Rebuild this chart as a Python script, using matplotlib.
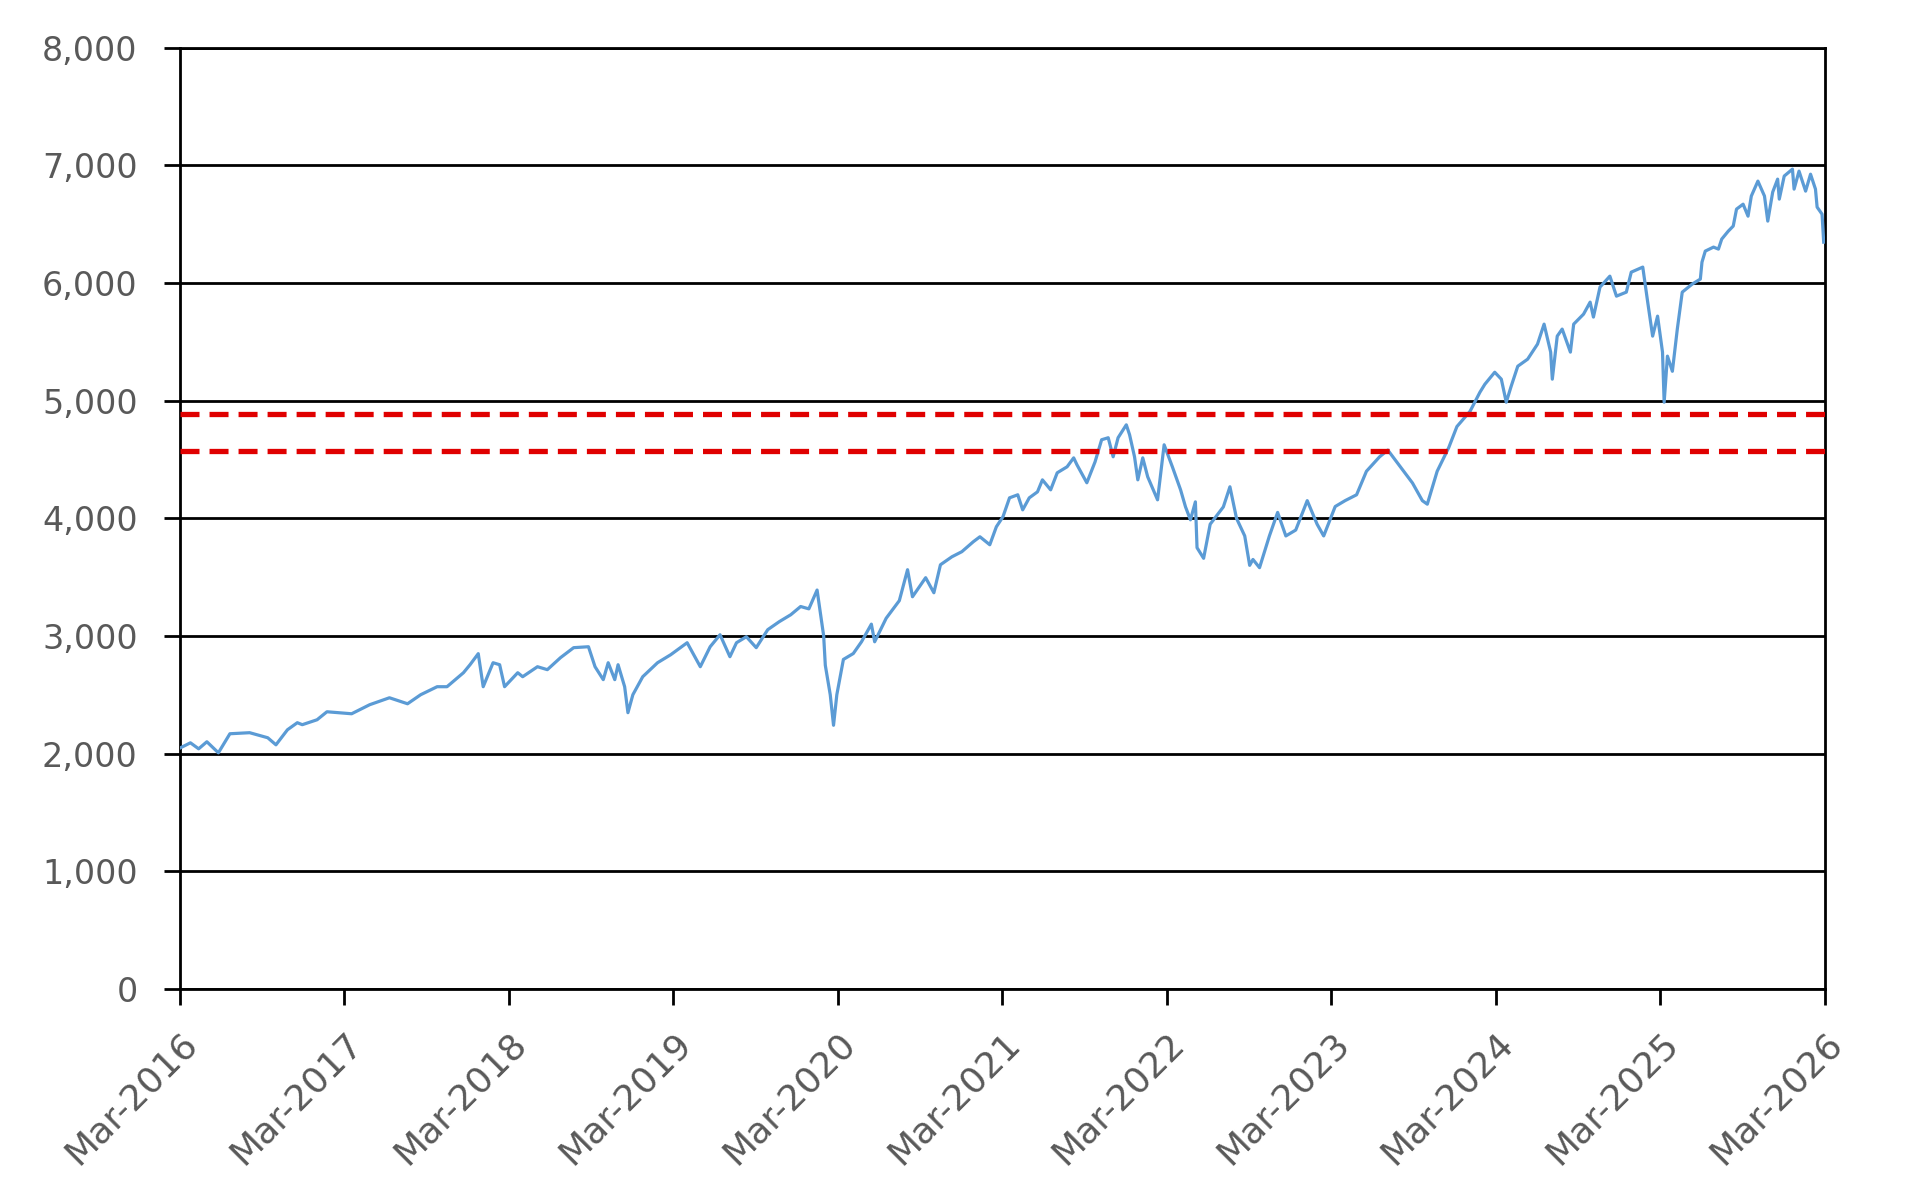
import numpy as np
import matplotlib
matplotlib.use("Agg")
from matplotlib import pyplot as plt

# index level (decimal year, value)
t = [2016.17, 2016.23, 2016.28, 2016.33, 2016.40, 2016.47, 2016.59, 2016.70, 2016.75, 2016.82,
     2016.88, 2016.91, 2017.00, 2017.06, 2017.21, 2017.32, 2017.44, 2017.55, 2017.63, 2017.73,
     2017.79, 2017.89, 2017.93, 2017.98, 2018.01, 2018.07, 2018.11, 2018.14, 2018.22, 2018.25,
     2018.34, 2018.40, 2018.48, 2018.56, 2018.65, 2018.69, 2018.74, 2018.77, 2018.81, 2018.83,
     2018.87, 2018.89, 2018.92, 2018.98, 2019.07, 2019.15, 2019.25, 2019.33, 2019.39, 2019.45,
     2019.51, 2019.55, 2019.61, 2019.67, 2019.74, 2019.81, 2019.88, 2019.94, 2019.99, 2020.04,
     2020.08, 2020.09, 2020.12, 2020.14, 2020.16, 2020.20, 2020.26, 2020.31, 2020.37, 2020.39,
     2020.46, 2020.54, 2020.59, 2020.62, 2020.70, 2020.75, 2020.79, 2020.86, 2020.92, 2020.99,
     2021.03, 2021.09, 2021.13, 2021.17, 2021.21, 2021.26, 2021.29, 2021.33, 2021.38, 2021.41,
     2021.46, 2021.50, 2021.56, 2021.60, 2021.62, 2021.68, 2021.73, 2021.77, 2021.81, 2021.84,
     2021.87, 2021.92, 2021.94, 2021.97, 2021.99, 2022.02, 2022.05, 2022.11, 2022.15, 2022.20,
     2022.25, 2022.28, 2022.31, 2022.34, 2022.35, 2022.39, 2022.43, 2022.51, 2022.55, 2022.59,
     2022.64, 2022.67, 2022.69, 2022.73, 2022.79, 2022.84, 2022.89, 2022.95, 2023.02, 2023.08,
     2023.12, 2023.19, 2023.25, 2023.32, 2023.38, 2023.46, 2023.51, 2023.58, 2023.66, 2023.72,
     2023.75, 2023.81, 2023.88, 2023.93, 2024.01, 2024.07, 2024.10, 2024.16, 2024.20, 2024.23,
     2024.26, 2024.30, 2024.36, 2024.42, 2024.46, 2024.50, 2024.51, 2024.54, 2024.57, 2024.62,
     2024.64, 2024.70, 2024.74, 2024.76, 2024.80, 2024.86, 2024.90, 2024.96, 2024.99, 2025.06,
     2025.09, 2025.12, 2025.15, 2025.18, 2025.19, 2025.21, 2025.24, 2025.27, 2025.30, 2025.36,
     2025.41, 2025.42, 2025.44, 2025.49, 2025.52, 2025.54, 2025.58, 2025.61, 2025.63, 2025.67,
     2025.70, 2025.72, 2025.76, 2025.80, 2025.82, 2025.85, 2025.88, 2025.89, 2025.92, 2025.97,
     2025.98, 2026.01, 2026.05, 2026.08, 2026.11, 2026.12, 2026.15, 2026.16]
niveau = [2049, 2091, 2040, 2100, 2006, 2168, 2177, 2134, 2074, 2202,
          2262, 2245, 2287, 2355, 2338, 2415, 2474, 2423, 2500, 2568,
          2568, 2687, 2755, 2849, 2568, 2772, 2755, 2568, 2687, 2653,
          2738, 2713, 2815, 2900, 2908, 2738, 2628, 2772, 2628, 2755,
          2568, 2347, 2500, 2653, 2772, 2840, 2942, 2738, 2908, 3010,
          2823, 2942, 2993, 2900, 3053, 3121, 3180, 3250, 3230, 3390,
          3000, 2750, 2500, 2240, 2500, 2800, 2850, 2950, 3100, 2950,
          3150, 3300, 3563, 3333, 3495, 3367, 3605, 3673, 3716, 3801,
          3843, 3775, 3928, 4013, 4174, 4200, 4072, 4174, 4225, 4327,
          4242, 4387, 4438, 4514, 4455, 4302, 4480, 4668, 4685, 4523,
          4685, 4795, 4710, 4523, 4327, 4514, 4353, 4157, 4625, 4438,
          4242, 4097, 3987, 4140, 3750, 3660, 3950, 4097, 4268, 4000,
          3850, 3600, 3650, 3580, 3850, 4050, 3850, 3900, 4150, 3950,
          3850, 4100, 4150, 4200, 4400, 4523, 4580, 4450, 4300, 4150,
          4120, 4400, 4600, 4780, 4910, 5072, 5140, 5242, 5183, 4987,
          5123, 5293, 5353, 5481, 5651, 5413, 5183, 5549, 5609, 5413,
          5651, 5736, 5838, 5711, 5966, 6059, 5889, 5923, 6093, 6136,
          5838, 5549, 5719, 5413, 4987, 5379, 5250, 5609, 5923, 5991,
          6034, 6178, 6272, 6306, 6289, 6374, 6442, 6485, 6629, 6671,
          6569, 6740, 6867, 6740, 6527, 6774, 6884, 6714, 6910, 6969,
          6799, 6952, 6782, 6926, 6799, 6646, 6586, 6348]

seuils = [4890, 4570]
annees = list(range(2016, 2027))
etiquettes = ['Mar-%d' % a for a in annees]

gris = '#595959'
plt.rcParams['font.family'] = ['DejaVu Sans']

fig = plt.figure(figsize=(19.17, 11.97), dpi=100)
ax = fig.add_axes([0.0939, 0.174, 0.858, 0.786])

ax.plot(t, niveau, color='#5B9BD5', lw=2.3, zorder=3)
for s in seuils:
    ax.axhline(s, color='#E00000', lw=3.8, dashes=(3.6, 1.9), zorder=4, clip_on=False)

ax.set_ylim(0, 8000)
ax.set_xlim(annees[0] + 2 / 12, annees[-1] + 2 / 12)
ax.set_yticks(np.arange(0, 8001, 1000))
ax.set_yticklabels(['{:,}'.format(v) for v in range(0, 8001, 1000)])
ax.set_xticks([a + 2 / 12 for a in annees])
ax.set_xticklabels(etiquettes, rotation=45, ha='right', va='top', rotation_mode='anchor')

ax.grid(axis='y', color='black', lw=2.0, zorder=1)
ax.set_axisbelow(True)
for sp in ax.spines.values():
    sp.set_color('black')
    sp.set_linewidth(2.0)

ax.tick_params(axis='y', length=11.5, width=2.0, color='black', labelsize=24, labelcolor=gris, pad=19)
ax.tick_params(axis='x', length=11.5, width=2.0, color='black', labelsize=26, labelcolor=gris, pad=15)

plt.savefig('out.png', dpi=100)
